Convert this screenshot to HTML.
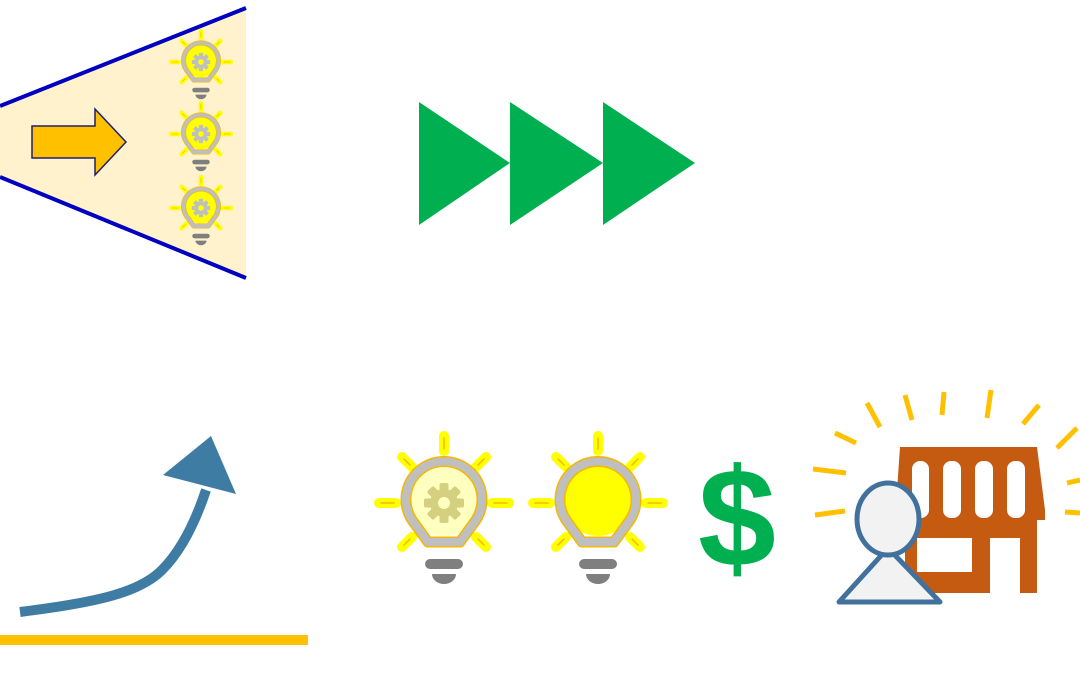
<!DOCTYPE html>
<html><head><meta charset="utf-8"><style>html,body{margin:0;padding:0;background:#fff;width:1080px;height:675px;overflow:hidden}</style></head>
<body>
<svg width="1080" height="675" viewBox="0 0 1080 675" xmlns="http://www.w3.org/2000/svg">
<defs>
<g id="rays">
  <g stroke="#ffff00" stroke-width="10" stroke-linecap="round">
    <line x1="0" y1="-67" x2="0" y2="-52"/>
    <line x1="-65" y1="0" x2="-48" y2="0"/>
    <line x1="65" y1="0" x2="48" y2="0"/>
    <line x1="-42" y1="-46" x2="-32" y2="-36"/>
    <line x1="42" y1="-46" x2="32" y2="-36"/>
    <line x1="-42" y1="44" x2="-32" y2="34"/>
    <line x1="42" y1="44" x2="32" y2="34"/>
  </g>
  <g stroke="#f5b800" stroke-width="1.5" stroke-linecap="round">
    <line x1="0" y1="-65" x2="0" y2="-54"/>
    <line x1="-63" y1="0" x2="-50" y2="0"/>
    <line x1="63" y1="0" x2="50" y2="0"/>
    <line x1="-40" y1="-44" x2="-34" y2="-38"/>
    <line x1="40" y1="-44" x2="34" y2="-38"/>
    <line x1="-40" y1="42" x2="-34" y2="36"/>
    <line x1="40" y1="42" x2="34" y2="36"/>
  </g>
  <path d="M-16 39 L-32 17 A38 38 0 1 1 32 17 L16 39 Z" fill="none" stroke="#f5b800" stroke-width="11" stroke-linejoin="round"/>
  <path d="M-16 39 L-32 17 A38 38 0 1 1 32 17 L16 39 Z" fill="none" stroke="#bfbfbf" stroke-width="8" stroke-linejoin="round"/>
  <rect x="-19" y="56" width="38" height="10" rx="5" fill="#7f7f7f"/>
  <path d="M-12 71 L12 71 A12 10 0 0 1 -12 71 Z" fill="#7f7f7f"/>
</g>
<g id="gear">
  <circle r="14"/>
  <rect x="-4.5" y="-20" width="9" height="40" rx="2"/>
  <rect x="-4.5" y="-20" width="9" height="40" rx="2" transform="rotate(45)"/>
  <rect x="-4.5" y="-20" width="9" height="40" rx="2" transform="rotate(90)"/>
  <rect x="-4.5" y="-20" width="9" height="40" rx="2" transform="rotate(135)"/>
</g>
</defs>

<polygon points="0,106 246,8 246,278 0,177" fill="#fff2cc"/>
<line x1="0" y1="106" x2="246" y2="8" stroke="#0000c0" stroke-width="4"/>
<line x1="0" y1="177" x2="246" y2="278" stroke="#0000c0" stroke-width="4"/>
<polygon points="32,126 95,126 95,109 126,142 95,175 95,158 32,158" fill="#ffc000" stroke="#1f1f6e" stroke-width="1.5"/>

<g transform="translate(201,62) scale(0.46)">
  <circle cy="-2" r="35" fill="#ffff00"/><use href="#rays"/>
  <g fill="#bfbfbf"><use href="#gear"/></g><circle r="6" fill="#ffff00"/>
</g>
<g transform="translate(201,134) scale(0.46)">
  <circle cy="-2" r="35" fill="#ffff00"/><use href="#rays"/>
  <g fill="#bfbfbf"><use href="#gear"/></g><circle r="6" fill="#ffff00"/>
</g>
<g transform="translate(201,208) scale(0.46)">
  <circle cy="-2" r="35" fill="#ffff00"/><use href="#rays"/>
  <g fill="#bfbfbf"><use href="#gear"/></g><circle r="6" fill="#ffff00"/>
</g>

<g fill="#00b050">
<polygon points="419,102 419,225 510,163"/>
<polygon points="510,102 510,225 603,163"/>
<polygon points="603,102 603,225 695,163"/>
</g>

<line x1="0" y1="640" x2="308" y2="640" stroke="#ffc000" stroke-width="10"/>
<path d="M20 612 C100 602 140 592 162 570 C182 550 196 520 206 490" fill="none" stroke="#3e7ca3" stroke-width="10"/>
<polygon points="163,475 211,436 236,494" fill="#3e7ca3"/>

<g transform="translate(444,503)">
  <circle cy="-2" r="35" fill="#ffffc0"/><use href="#rays"/>
  <g fill="#d4d080"><use href="#gear"/></g><circle r="6" fill="#ffffc0"/>
</g>
<g transform="translate(598,503)">
  <circle cy="-2" r="35" fill="#ffff00"/><use href="#rays"/>
</g>

<text x="737" y="566" font-family="Liberation Sans, sans-serif" font-weight="bold" font-size="140" fill="#00b050" text-anchor="middle">$</text>

<g stroke="#ffc000" stroke-width="5">
<line x1="867" y1="403" x2="880" y2="427"/>
<line x1="835" y1="433" x2="856" y2="443"/>
<line x1="813" y1="469" x2="846" y2="473"/>
<line x1="815" y1="515" x2="845" y2="511"/>
<line x1="905" y1="395" x2="912" y2="420"/>
<line x1="944" y1="392" x2="942" y2="415"/>
<line x1="991" y1="390" x2="987" y2="418"/>
<line x1="1039" y1="405" x2="1023" y2="424"/>
<line x1="1077" y1="428" x2="1057" y2="448"/>
<line x1="1067" y1="483" x2="1080" y2="480"/>
<line x1="1065" y1="512" x2="1080" y2="513"/>
</g>

<g fill="#c55a11">
<polygon points="900,447 1037,447 1045,510 1045,520 895,520"/>
<rect x="905" y="518" width="132" height="20"/>
<rect x="1020" y="518" width="17" height="75"/>
<rect x="972" y="518" width="18" height="75"/>
<rect x="905" y="518" width="15" height="75"/>
<rect x="905" y="572" width="85" height="21"/>
</g>
<g fill="#fff">
<rect x="912" y="461" width="17" height="57" rx="8"/>
<rect x="943" y="461" width="18" height="57" rx="8"/>
<rect x="975" y="461" width="18" height="57" rx="8"/>
<rect x="1007" y="461" width="18" height="57" rx="8"/>
<rect x="917" y="538" width="34" height="34"/>
</g>

<polygon points="888,548 839,602 940,602" fill="#f2f2f2" stroke="#41719c" stroke-width="5" stroke-linejoin="round"/>
<ellipse cx="888" cy="519" rx="31" ry="36" fill="#f2f2f2" stroke="#41719c" stroke-width="5"/>
</svg>
</body></html>
